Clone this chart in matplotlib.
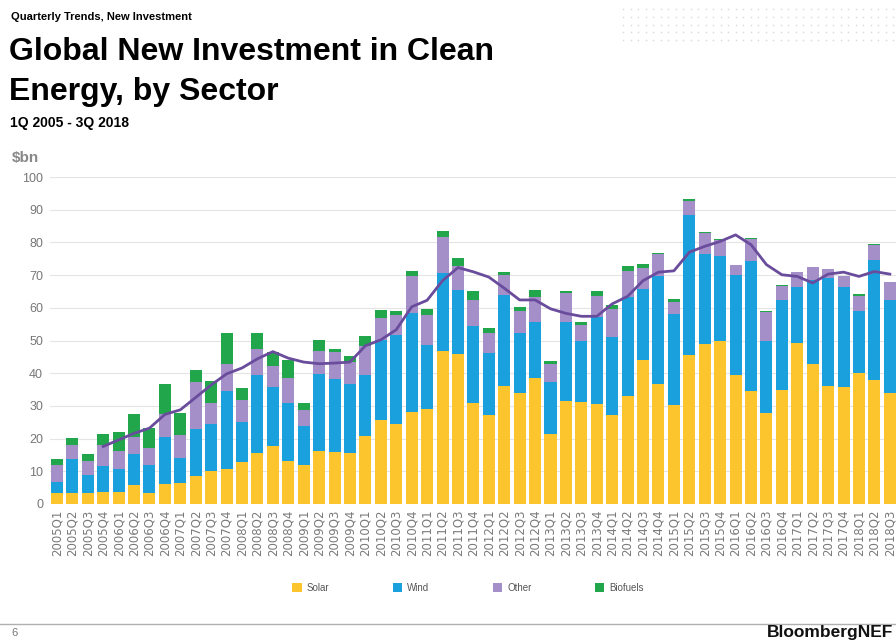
import numpy as np
import matplotlib
matplotlib.use("Agg")
import matplotlib.pyplot as plt
from matplotlib.patches import Patch
from matplotlib.lines import Line2D

plt.rcParams['font.family'] = ['Liberation Sans', 'DejaVu Sans']

# quarters 2005Q1 .. 2018Q3
quarters = [f"{y}Q{q}" for y in range(2005, 2019) for q in range(1, 5)][:55]

solar = [3.3, 3.3, 3.3, 3.8,
         3.6, 5.8, 3.3, 6.2,
         6.3, 8.6, 10.1, 10.6,
         12.7, 15.5, 17.6, 13.1,
         11.9, 16.3, 16.0, 15.5,
         20.8, 25.7, 24.4, 28.1,
         29.2, 46.8, 45.9, 31.0,
         27.2, 36.1, 33.9, 38.5,
         21.3, 31.6, 31.3, 30.6,
         27.2, 33.1, 43.9, 36.6,
         30.3, 45.5, 49.0, 49.7,
         39.3, 34.7, 27.8, 34.9,
         49.2, 42.8, 36.1, 35.9,
         40.0, 38.0, 33.9]

wind = [3.5, 10.5, 5.6, 7.8,
        7.1, 9.4, 8.6, 14.4,
        7.7, 14.2, 14.3, 24.1,
        12.5, 24.0, 18.3, 17.9,
        12.0, 23.5, 22.2, 21.1,
        18.5, 24.5, 27.3, 30.3,
        19.5, 23.8, 19.4, 23.5,
        18.9, 27.9, 18.5, 17.3,
        15.9, 24.2, 18.4, 26.7,
        24.0, 30.2, 21.9, 33.2,
        27.9, 42.8, 27.5, 26.0,
        30.8, 39.5, 21.9, 27.5,
        17.1, 25.8, 33.0, 30.6,
        18.9, 36.7, 28.5]

other = [5.1, 4.1, 4.1, 6.3,
         5.6, 5.4, 5.1, 6.8,
         7.2, 14.5, 6.6, 8.1,
         6.6, 7.9, 6.3, 7.5,
         4.9, 7.1, 8.4, 6.8,
         8.9, 6.6, 6.0, 11.4,
         9.2, 11.0, 7.4, 7.9,
         6.1, 6.1, 6.5, 7.5,
         5.6, 8.7, 5.1, 6.2,
         8.4, 8.1, 6.3, 6.7,
         3.7, 4.3, 6.4, 5.1,
         2.9, 6.9, 9.0, 4.3,
         4.6, 3.9, 2.8, 3.1,
         4.6, 4.6, 5.4]

biofuels = [1.9, 2.2, 2.3, 3.4,
            5.6, 6.8, 6.1, 9.4,
            6.7, 3.7, 6.7, 9.4,
            3.6, 5.0, 4.4, 5.6,
            2.0, 3.3, 0.8, 1.9,
            3.2, 2.6, 1.2, 1.6,
            1.7, 2.0, 2.5, 2.6,
            1.6, 0.8, 1.3, 2.2,
            0.8, 0.5, 1.0, 1.5,
            1.3, 1.3, 1.3, 0.3,
            0.9, 0.8, 0.3, 0.2,
            0.2, 0.3, 0.2, 0.2,
            0.2, 0.1, 0.1, 0.1,
            0.8, 0.1, 0.1]

# four-quarter average line, starts at 2005Q4
trend = [np.nan, np.nan, np.nan, 17.6,
         19.6, 21.6, 23.2, 27.4,
         28.8, 32.6, 36.4, 39.8,
         41.6, 44.4, 46.6, 44.6,
         43.4, 42.9, 43.1, 43.4,
         48.4, 50.2, 53.3, 60.3,
         62.3, 68.3, 72.3, 71.0,
         69.4, 66.0, 62.4, 62.4,
         59.7, 58.3, 57.4, 57.4,
         61.2, 63.5, 68.3, 70.9,
         71.3, 77.0, 78.8, 80.3,
         82.3, 79.3, 73.2, 70.1,
         69.6, 67.6, 70.3, 70.9,
         69.6, 71.1, 70.3]

sectors = ['Solar', 'Wind', 'Other', 'Biofuels']
colors = ['#FCC42D', '#1AA1DD', '#A58FC9', '#22A64B']
series = [solar, wind, other, biofuels]

W, H = 896, 641
fig = plt.figure(figsize=(W / 100, H / 100), dpi=100)

ax = fig.add_axes([50 / W, 1 - 504 / H, 1 - 50 / W, (504 - 177) / H])
x = np.arange(len(quarters))
bottom = np.zeros(len(quarters))
for name, vals, col in zip(sectors, series, colors):
    ax.bar(x, vals, 0.78, bottom=bottom, color=col, label=name, zorder=2)
    bottom += np.array(vals)
ax.plot(x, trend, color='#6A4C9C', lw=2, zorder=3)

ax.set_xlim(-0.45, 54.4)
ax.set_ylim(0, 100)
ax.set_yticks(range(0, 101, 10))
ax.set_xticks(x)
ax.set_xticklabels(quarters, rotation=90, fontsize=8.5, color='#7a7a7a',
                   family='DejaVu Sans')
ax.tick_params(axis='y', labelsize=9, labelcolor='#777777', length=0, pad=5)
ax.tick_params(axis='x', length=0, pad=4)
ax.grid(axis='y', color='#e4e4e4', lw=0.8, zorder=0)
for s in ax.spines.values():
    s.set_visible(False)

# header text
fig.text(11 / W, 1 - 17 / H, 'Quarterly Trends, New Investment', fontsize=8.0,
         fontweight='bold', va='center')
fig.text(9 / W, 1 - 60 / H, 'Global New Investment in Clean', fontsize=23,
         fontweight='bold', va='baseline')
fig.text(9 / W, 1 - 100 / H, 'Energy, by Sector', fontsize=23,
         fontweight='bold', va='baseline')
fig.text(10 / W, 1 - 123 / H, '1Q 2005 - 3Q 2018', fontsize=10,
         fontweight='bold', va='center')
fig.text(12 / W, 1 - 158 / H, '$bn', fontsize=11, color='#888888',
         fontweight='bold', va='center')

# dotted pattern, top right
deco = fig.add_axes([0, 0, 1, 1], zorder=-1)
deco.set_xlim(0, W)
deco.set_ylim(H, 0)
deco.axis('off')
gx, gy = np.meshgrid(np.arange(623, 895, 7.5), [9, 17, 24.5, 32, 40])
deco.scatter(gx, gy, s=1.5, color='#dcdcdc', lw=0)

# legend
handles = [Patch(facecolor=c, label=n) for n, c in zip(sectors, colors)]
fig.legend(handles=handles, loc='center', bbox_to_anchor=(468 / W, 1 - 588 / H),
           ncol=4, frameon=False, fontsize=7, handlelength=1.0, handleheight=1.0,
           handletextpad=0.5, columnspacing=6.5, labelcolor='#555555')

# footer
fig.add_artist(Line2D([0, 1], [1 - 624 / H, 1 - 624 / H], color='#b0b0b0', lw=1))
fig.text(11 / W, 1 - 633 / H, '6', fontsize=8, color='#777777', va='center')
fig.text(893 / W, 1 - 637 / H, 'BloombergNEF', fontsize=12.5, fontweight='bold',
         ha='right', va='baseline', color='#111111')

fig.savefig('out.png', dpi=100)
